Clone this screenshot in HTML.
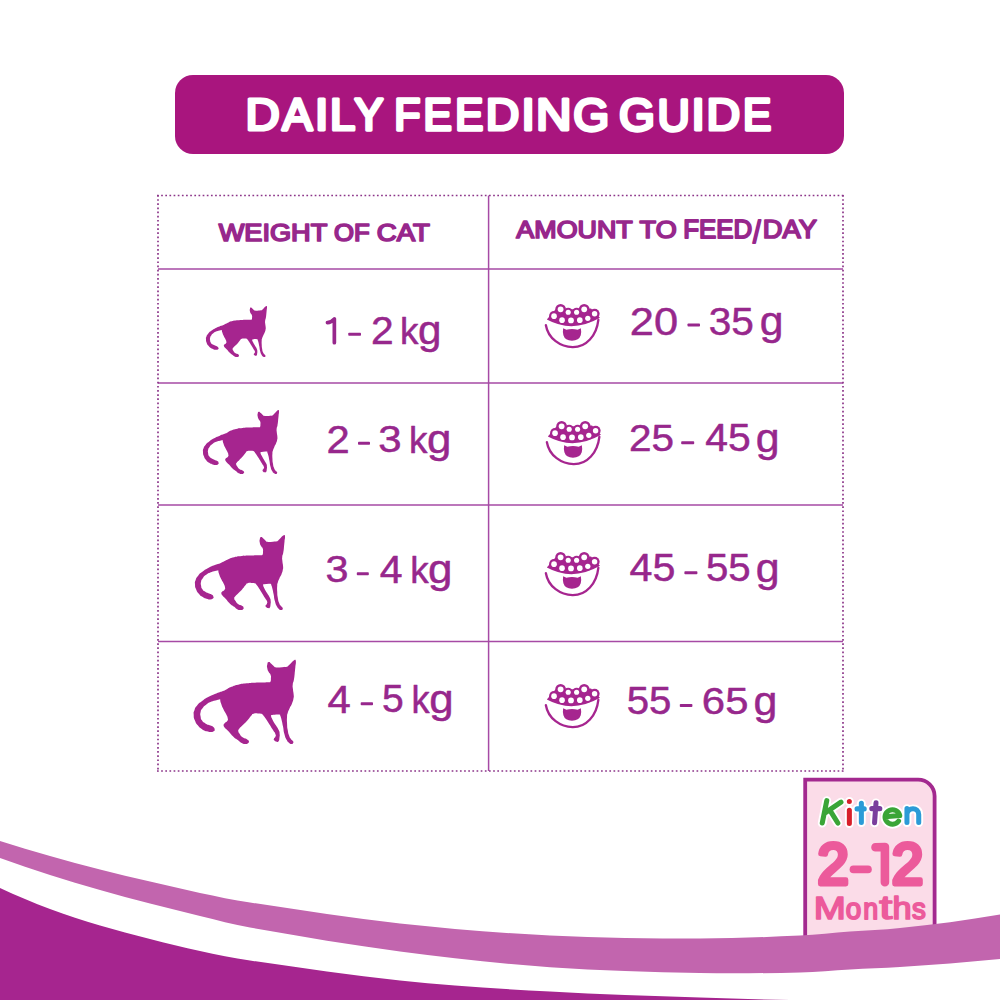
<!DOCTYPE html>
<html><head><meta charset="utf-8"><title>Daily Feeding Guide</title>
<style>
html,body{margin:0;padding:0;background:#fff;}
body{width:1000px;height:1000px;position:relative;overflow:hidden;font-family:"Liberation Sans",sans-serif;}
svg{position:absolute;left:0;top:0;}
.t{position:absolute;white-space:pre;transform-origin:0 0;display:block;}
</style></head><body>
<svg width="1000" height="1000" viewBox="0 0 1000 1000">
<rect x="175" y="75" width="669" height="79" rx="18" ry="18" fill="#a9157e"/>
<line x1="158" y1="269" x2="843" y2="269" stroke="#a64aa5" stroke-width="1.6"/>
<line x1="158" y1="383" x2="843" y2="383" stroke="#a64aa5" stroke-width="1.6"/>
<line x1="158" y1="505" x2="843" y2="505" stroke="#a64aa5" stroke-width="1.6"/>
<line x1="158" y1="641.5" x2="843" y2="641.5" stroke="#a64aa5" stroke-width="1.6"/>
<line x1="488.6" y1="195.5" x2="488.6" y2="771" stroke="#a64aa5" stroke-width="1.5"/>
<g stroke="#8c3589" stroke-width="1.7" fill="none" stroke-dasharray="1.7 2.45"><line x1="157" y1="195.5" x2="844" y2="195.5"/><line x1="157" y1="771" x2="844" y2="771"/><line x1="158" y1="195" x2="158" y2="772"/><line x1="843" y1="195" x2="843" y2="772"/></g>
<defs><path id="cat" d="M268.73,662.13C270.06,661.87 269.23,662.00 271.29,663.74C273.35,665.48 273.70,666.15 274.90,667.35C276.48,667.41 275.53,667.70 279.65,667.54C283.77,667.38 284.72,667.10 287.25,666.88C288.20,665.93 288.04,666.08 290.10,664.03C292.16,661.97 291.62,662.13 293.43,660.70C295.23,659.28 294.82,660.07 295.52,659.75C295.64,660.64 295.96,659.88 295.90,662.41C295.83,664.94 295.74,663.49 295.33,667.35C294.92,671.21 295.14,669.88 294.66,674.00C294.19,678.12 294.54,676.22 293.90,679.70C293.27,683.18 293.08,681.28 292.76,684.45C292.45,687.62 292.64,685.72 292.95,689.20C293.27,692.68 293.55,691.73 293.71,694.90C293.87,698.07 294.00,695.85 293.43,698.70C292.86,701.55 293.27,700.28 292.00,703.45C290.74,706.62 291.05,705.03 289.63,708.20C288.20,711.37 288.58,710.10 287.73,712.95C286.87,715.80 287.28,713.27 287.06,716.75C286.84,720.24 286.84,718.97 287.06,723.40C287.28,727.84 287.03,725.94 287.73,730.05C288.42,734.17 288.04,732.74 289.15,735.75C290.26,738.76 289.78,737.34 291.05,739.08C292.32,740.82 292.26,739.71 292.95,740.98C293.65,742.24 293.62,741.93 293.14,742.88C292.67,743.83 292.86,743.83 291.53,743.83C290.20,743.83 290.74,744.14 289.15,742.88C287.57,741.61 288.36,743.04 286.78,740.03C285.19,737.02 285.67,738.44 284.40,733.85C283.13,729.26 283.93,731.00 282.98,726.25C282.03,721.50 282.50,723.24 281.55,719.60C280.60,715.96 280.60,716.75 280.13,715.33C279.65,715.01 281.39,714.54 278.70,714.38C276.01,714.22 274.27,714.69 272.05,714.85C271.73,715.17 270.94,714.22 271.10,715.80C271.26,717.39 270.94,716.44 272.53,719.60C274.11,722.77 273.79,721.82 275.85,725.30C277.91,728.79 277.43,727.20 278.70,730.05C279.97,732.90 279.40,731.32 279.65,733.85C279.90,736.39 279.78,735.28 279.46,737.65C279.14,740.03 279.59,739.65 278.70,740.98C277.81,742.31 278.23,741.80 276.80,741.64C275.38,741.48 275.38,741.52 274.43,740.50C273.48,739.49 273.63,739.87 273.95,738.60C274.27,737.34 274.90,738.29 275.38,736.70C275.85,735.12 276.17,736.07 275.38,733.85C274.58,731.64 275.38,733.85 273.00,730.05C270.63,726.25 271.10,726.89 268.25,722.45C265.40,718.02 266.51,719.60 264.45,716.75C262.39,713.90 262.87,714.85 262.08,713.90C260.97,713.74 261.60,713.49 258.75,713.43C255.90,713.36 256.06,712.92 253.53,713.71C250.99,714.50 253.21,713.52 251.15,715.80C249.09,718.08 250.20,717.39 247.35,720.55C244.50,723.72 245.29,722.61 242.60,725.30C239.91,727.99 240.70,726.73 239.28,728.63C237.85,730.53 238.17,729.26 238.33,731.00C238.48,732.74 238.33,731.79 239.75,733.85C241.18,735.91 240.23,735.44 242.60,737.18C244.98,738.92 244.82,737.81 246.88,739.08C248.93,740.34 248.30,739.71 248.78,740.98C249.25,742.24 249.41,741.93 248.30,742.88C247.19,743.83 247.67,743.83 245.45,743.83C243.23,743.83 244.18,744.14 241.65,742.88C239.12,741.61 240.58,742.09 237.85,740.03C235.12,737.97 236.50,739.55 233.45,736.70C230.40,733.85 231.55,734.49 228.70,731.48C225.85,728.47 226.64,729.89 224.90,727.68C223.16,725.46 223.95,725.78 223.48,724.83C223.95,724.19 223.63,724.19 224.90,722.93C226.17,721.66 226.33,722.61 227.28,721.03C228.23,719.44 228.07,720.39 227.75,718.18C227.43,715.96 227.75,717.39 226.33,714.38C224.90,711.37 225.22,712.79 223.48,709.15C221.73,705.51 222.21,706.78 221.10,703.45C219.99,700.13 220.47,700.60 220.15,699.18C218.88,699.49 219.20,699.33 216.35,700.13C213.50,700.92 214.93,700.13 211.60,701.55C208.28,702.98 209.38,702.18 206.38,704.40C203.37,706.62 204.48,705.67 202.58,708.20C200.68,710.74 201.31,709.15 200.68,712.00C200.04,714.85 200.20,713.90 200.68,716.75C201.15,719.60 200.52,718.34 202.10,720.55C203.68,722.77 202.89,721.82 205.43,723.40C207.96,724.99 207.17,724.19 209.70,725.30C212.23,726.41 211.38,725.46 213.03,726.73C214.67,727.99 214.32,727.68 214.64,729.10C214.96,730.53 215.15,730.05 213.98,731.00C212.80,731.95 213.50,731.86 211.13,731.95C208.75,732.05 209.86,732.24 206.85,731.29C203.84,730.34 205.11,731.10 202.10,729.10C199.09,727.11 200.20,728.15 197.83,725.30C195.45,722.45 196.34,724.04 194.98,720.55C193.61,717.07 193.90,718.34 193.74,714.85C193.58,711.37 193.30,713.27 194.50,710.10C195.70,706.93 194.82,708.36 197.35,705.35C199.88,702.34 198.30,703.93 202.10,701.08C205.90,698.23 204.00,699.33 208.75,696.80C213.50,694.27 211.60,695.38 216.35,693.48C221.10,691.58 219.52,692.53 223.00,691.10C226.48,689.68 223.95,690.63 226.80,689.20C229.65,687.78 227.75,688.35 231.55,686.83C235.35,685.31 233.13,685.81 238.20,684.64C243.27,683.47 241.14,683.94 246.75,683.31C252.37,682.68 249.46,682.99 255.05,682.74C260.63,682.49 258.62,682.68 263.50,682.55C268.38,682.42 267.62,682.42 269.68,682.36C269.96,682.11 270.12,682.80 270.53,681.60C270.94,680.40 270.88,680.97 270.91,678.75C270.94,676.53 271.35,677.17 270.63,674.95C269.90,672.73 269.83,674.32 268.73,672.10C267.62,669.88 267.78,670.83 267.30,668.30C266.83,665.77 266.83,666.56 267.30,664.50C267.78,662.44 267.40,662.38 268.73,662.13Z"/></defs>
<use href="#cat" fill="#a6258f" transform="translate(206.00,306.00) scale(0.5971,0.6066) translate(-193.74,-659.75)"/>
<use href="#cat" fill="#a6258f" transform="translate(203.00,410.00) scale(0.7440,0.7612) translate(-193.74,-659.75)"/>
<use href="#cat" fill="#a6258f" transform="translate(195.00,535.00) scale(0.8810,0.8920) translate(-193.74,-659.75)"/>
<use href="#cat" fill="#a6258f" transform="translate(193.70,659.70) scale(1.0004,1.0015) translate(-193.74,-659.75)"/>
<defs><g id="bowl" fill="#a6258f"><path d="M148,370 Q470,545 812,348 L700,230 L250,250 Z" /><circle cx="320" cy="242" r="67"/><circle cx="415" cy="278" r="57"/><circle cx="520" cy="278" r="57"/><circle cx="615" cy="242" r="67"/><circle cx="745" cy="297" r="63"/><circle cx="238" cy="327" r="63"/><circle cx="338" cy="377" r="52"/><circle cx="450" cy="380" r="52"/><circle cx="560" cy="377" r="52"/><circle cx="660" cy="354" r="52"/><circle cx="320" cy="242" r="36" fill="#fff"/><circle cx="415" cy="278" r="32" fill="#fff"/><circle cx="520" cy="278" r="32" fill="#fff"/><circle cx="615" cy="242" r="36" fill="#fff"/><circle cx="745" cy="297" r="34" fill="#fff"/><circle cx="238" cy="327" r="35" fill="#fff"/><circle cx="338" cy="377" r="35" fill="#fff"/><circle cx="450" cy="380" r="36" fill="#fff"/><circle cx="560" cy="377" r="35" fill="#fff"/><circle cx="660" cy="354" r="33" fill="#fff"/><path d="M136,440 C165,610 320,712 470,714 C640,716 770,570 792,372" fill="none" stroke="#a6258f" stroke-width="29" stroke-linecap="round"/><path d="M352,478 L392,496 Q462,482 533,496 L573,478 Q582,520 572,565 Q550,632 462,634 Q375,632 355,565 Q344,520 352,478 Z"/></g></defs>
<use href="#bowl" transform="translate(535,290) scale(0.08)"/>
<use href="#bowl" transform="translate(536,407) scale(0.08)"/>
<use href="#bowl" transform="translate(535,538) scale(0.08)"/>
<use href="#bowl" transform="translate(535,670) scale(0.08)"/>
<rect x="348.25" y="332.80" width="12.75" height="3" rx="0.8" fill="#97278c"/>
<rect x="358.00" y="441.75" width="12.00" height="3" rx="0.8" fill="#97278c"/>
<rect x="356.80" y="572.20" width="12.00" height="3" rx="0.8" fill="#97278c"/>
<rect x="360.70" y="702.20" width="12.30" height="3" rx="0.8" fill="#97278c"/>
<rect x="687.50" y="323.50" width="12.50" height="3" rx="0.8" fill="#97278c"/>
<rect x="681.20" y="441.30" width="13.00" height="3" rx="0.8" fill="#97278c"/>
<rect x="684.40" y="571.30" width="13.00" height="3" rx="0.8" fill="#97278c"/>
<rect x="679.80" y="704.00" width="12.60" height="3" rx="0.8" fill="#97278c"/>
<path d="M327.45,322.60 Q331.15,322.40 334.35,318.90 L334.35,342.75" fill="none" stroke="#97278c" stroke-width="3.7" stroke-linecap="round" stroke-linejoin="round"/>
<path d="M805.2,960 L805.2,779.6 L918,779.6 A16.5,16.5 0 0 1 934.6,796 L934.6,960 Z" fill="#fbdce8" stroke="#a3298f" stroke-width="3.8"/>
<g font-family="Liberation Sans, sans-serif"><text transform="translate(245.56,130.42) scale(1.0793,1)" font-size="43.91" font-weight="normal" font-style="normal" fill="#fff" stroke="#fff" stroke-width="3.3" stroke-linejoin="round" vector-effect="non-scaling-stroke">D</text><text transform="translate(282.22,130.42) scale(1.0208,1)" font-size="44.23" font-weight="normal" font-style="normal" fill="#fff" stroke="#fff" stroke-width="3.3" stroke-linejoin="round" vector-effect="non-scaling-stroke">A</text><text transform="translate(314.80,130.42) scale(1.1266,1)" font-size="43.91" font-weight="normal" font-style="normal" fill="#fff" stroke="#fff" stroke-width="3.3" stroke-linejoin="round" vector-effect="non-scaling-stroke">I</text><text transform="translate(330.02,130.42) scale(1.0337,1)" font-size="43.91" font-weight="normal" font-style="normal" fill="#fff" stroke="#fff" stroke-width="3.3" stroke-linejoin="round" vector-effect="non-scaling-stroke">L</text><text transform="translate(354.47,130.42) scale(0.9844,1)" font-size="43.91" font-weight="normal" font-style="normal" fill="#fff" stroke="#fff" stroke-width="3.3" stroke-linejoin="round" vector-effect="non-scaling-stroke">Y</text><text transform="translate(394.32,130.42) scale(0.9760,1)" font-size="43.91" font-weight="normal" font-style="normal" fill="#fff" stroke="#fff" stroke-width="3.3" stroke-linejoin="round" vector-effect="non-scaling-stroke">F</text><text transform="translate(423.46,130.42) scale(0.9652,1)" font-size="43.91" font-weight="normal" font-style="normal" fill="#fff" stroke="#fff" stroke-width="3.3" stroke-linejoin="round" vector-effect="non-scaling-stroke">E</text><text transform="translate(455.19,130.42) scale(0.9569,1)" font-size="43.91" font-weight="normal" font-style="normal" fill="#fff" stroke="#fff" stroke-width="3.3" stroke-linejoin="round" vector-effect="non-scaling-stroke">E</text><text transform="translate(485.84,130.42) scale(1.0563,1)" font-size="43.91" font-weight="normal" font-style="normal" fill="#fff" stroke="#fff" stroke-width="3.3" stroke-linejoin="round" vector-effect="non-scaling-stroke">D</text><text transform="translate(521.30,130.42) scale(1.1266,1)" font-size="43.91" font-weight="normal" font-style="normal" fill="#fff" stroke="#fff" stroke-width="3.3" stroke-linejoin="round" vector-effect="non-scaling-stroke">I</text><text transform="translate(536.01,130.42) scale(1.1223,1)" font-size="43.91" font-weight="normal" font-style="normal" fill="#fff" stroke="#fff" stroke-width="3.3" stroke-linejoin="round" vector-effect="non-scaling-stroke">N</text><text transform="translate(573.34,130.97) scale(1.0169,1)" font-size="45.49" font-weight="normal" font-style="normal" fill="#fff" stroke="#fff" stroke-width="3.3" stroke-linejoin="round" vector-effect="non-scaling-stroke">G</text><text transform="translate(618.94,130.97) scale(1.0169,1)" font-size="45.49" font-weight="normal" font-style="normal" fill="#fff" stroke="#fff" stroke-width="3.3" stroke-linejoin="round" vector-effect="non-scaling-stroke">G</text><text transform="translate(657.49,130.98) scale(1.0005,1)" font-size="44.71" font-weight="normal" font-style="normal" fill="#fff" stroke="#fff" stroke-width="3.3" stroke-linejoin="round" vector-effect="non-scaling-stroke">U</text><text transform="translate(691.30,130.42) scale(1.1266,1)" font-size="43.91" font-weight="normal" font-style="normal" fill="#fff" stroke="#fff" stroke-width="3.3" stroke-linejoin="round" vector-effect="non-scaling-stroke">I</text><text transform="translate(706.43,130.42) scale(1.0602,1)" font-size="43.91" font-weight="normal" font-style="normal" fill="#fff" stroke="#fff" stroke-width="3.3" stroke-linejoin="round" vector-effect="non-scaling-stroke">D</text><text transform="translate(743.06,130.42) scale(0.9652,1)" font-size="43.91" font-weight="normal" font-style="normal" fill="#fff" stroke="#fff" stroke-width="3.3" stroke-linejoin="round" vector-effect="non-scaling-stroke">E</text><text transform="translate(218.66,240.90) scale(1.1219,1)" font-size="24.23" font-weight="normal" font-style="normal" fill="#97278c" stroke="#97278c" stroke-width="1.8" stroke-linejoin="round" vector-effect="non-scaling-stroke">WEIGHT</text><text transform="translate(334.04,240.90) scale(1.0597,1)" font-size="24.23" font-weight="normal" font-style="normal" fill="#97278c" stroke="#97278c" stroke-width="1.8" stroke-linejoin="round" vector-effect="non-scaling-stroke">OF</text><text transform="translate(376.82,240.90) scale(1.1393,1)" font-size="24.23" font-weight="normal" font-style="normal" fill="#97278c" stroke="#97278c" stroke-width="1.8" stroke-linejoin="round" vector-effect="non-scaling-stroke">CAT</text><text transform="translate(516.37,237.70) scale(1.1084,1)" font-size="24.23" font-weight="normal" font-style="normal" fill="#97278c" stroke="#97278c" stroke-width="1.8" stroke-linejoin="round" vector-effect="non-scaling-stroke">AMOUNT</text><text transform="translate(639.62,237.70) scale(1.1157,1)" font-size="24.23" font-weight="normal" font-style="normal" fill="#97278c" stroke="#97278c" stroke-width="1.8" stroke-linejoin="round" vector-effect="non-scaling-stroke">TO</text><text transform="translate(683.33,237.94) scale(1.0377,1)" font-size="24.93" font-weight="normal" font-style="normal" fill="#97278c" stroke="#97278c" stroke-width="1.8" stroke-linejoin="round" vector-effect="non-scaling-stroke">FEED</text><text transform="translate(753.10,243.14) scale(0.8755,1)" font-size="31.56" font-weight="normal" font-style="normal" fill="#97278c" stroke="#97278c" stroke-width="1.8" stroke-linejoin="round" vector-effect="non-scaling-stroke">/</text><text transform="translate(762.71,237.94) scale(1.0968,1)" font-size="24.93" font-weight="normal" font-style="normal" fill="#97278c" stroke="#97278c" stroke-width="1.8" stroke-linejoin="round" vector-effect="non-scaling-stroke">DAY</text><text transform="translate(370.91,343.86) scale(1.0709,1)" font-size="38.07" font-weight="normal" font-style="normal" fill="#97278c" stroke="#97278c" stroke-width="0.5" stroke-linejoin="round" vector-effect="non-scaling-stroke">2</text><text transform="translate(400.11,343.56) scale(0.9750,1)" font-size="37.72" font-weight="normal" font-style="normal" fill="#97278c" stroke="#97278c" stroke-width="0.5" stroke-linejoin="round" vector-effect="non-scaling-stroke">k</text><text transform="translate(418.06,344.10) scale(1.0468,1)" font-size="40.34" font-weight="normal" font-style="normal" fill="#97278c" stroke="#97278c" stroke-width="0.5" stroke-linejoin="round" vector-effect="non-scaling-stroke">g</text><text transform="translate(326.46,452.81) scale(1.1030,1)" font-size="37.86" font-weight="normal" font-style="normal" fill="#97278c" stroke="#97278c" stroke-width="0.5" stroke-linejoin="round" vector-effect="non-scaling-stroke">2</text><text transform="translate(378.32,452.44) scale(1.1259,1)" font-size="37.32" font-weight="normal" font-style="normal" fill="#97278c" stroke="#97278c" stroke-width="0.5" stroke-linejoin="round" vector-effect="non-scaling-stroke">3</text><text transform="translate(409.11,452.51) scale(0.9804,1)" font-size="37.52" font-weight="normal" font-style="normal" fill="#97278c" stroke="#97278c" stroke-width="0.5" stroke-linejoin="round" vector-effect="non-scaling-stroke">k</text><text transform="translate(426.99,453.09) scale(1.0936,1)" font-size="40.13" font-weight="normal" font-style="normal" fill="#97278c" stroke="#97278c" stroke-width="0.5" stroke-linejoin="round" vector-effect="non-scaling-stroke">g</text><text transform="translate(325.39,582.44) scale(1.1088,1)" font-size="37.32" font-weight="normal" font-style="normal" fill="#97278c" stroke="#97278c" stroke-width="0.5" stroke-linejoin="round" vector-effect="non-scaling-stroke">3</text><text transform="translate(379.73,582.81) scale(1.0675,1)" font-size="38.41" font-weight="normal" font-style="normal" fill="#97278c" stroke="#97278c" stroke-width="0.5" stroke-linejoin="round" vector-effect="non-scaling-stroke">4</text><text transform="translate(410.16,582.51) scale(0.9804,1)" font-size="37.52" font-weight="normal" font-style="normal" fill="#97278c" stroke="#97278c" stroke-width="0.5" stroke-linejoin="round" vector-effect="non-scaling-stroke">k</text><text transform="translate(427.99,583.09) scale(1.0963,1)" font-size="40.13" font-weight="normal" font-style="normal" fill="#97278c" stroke="#97278c" stroke-width="0.5" stroke-linejoin="round" vector-effect="non-scaling-stroke">g</text><text transform="translate(327.50,712.82) scale(1.0788,1)" font-size="38.84" font-weight="normal" font-style="normal" fill="#97278c" stroke="#97278c" stroke-width="0.5" stroke-linejoin="round" vector-effect="non-scaling-stroke">4</text><text transform="translate(381.89,712.43) scale(1.0200,1)" font-size="38.29" font-weight="normal" font-style="normal" fill="#97278c" stroke="#97278c" stroke-width="0.5" stroke-linejoin="round" vector-effect="non-scaling-stroke">5</text><text transform="translate(411.40,712.51) scale(0.9515,1)" font-size="37.93" font-weight="normal" font-style="normal" fill="#97278c" stroke="#97278c" stroke-width="0.5" stroke-linejoin="round" vector-effect="non-scaling-stroke">k</text><text transform="translate(429.24,713.01) scale(1.0827,1)" font-size="40.54" font-weight="normal" font-style="normal" fill="#97278c" stroke="#97278c" stroke-width="0.5" stroke-linejoin="round" vector-effect="non-scaling-stroke">g</text><text transform="translate(629.78,334.73) scale(1.1374,1)" font-size="38.17" font-weight="normal" font-style="normal" fill="#97278c" stroke="#97278c" stroke-width="0.5" stroke-linejoin="round" vector-effect="non-scaling-stroke">20</text><text transform="translate(708.63,334.73) scale(1.0632,1)" font-size="38.17" font-weight="normal" font-style="normal" fill="#97278c" stroke="#97278c" stroke-width="0.5" stroke-linejoin="round" vector-effect="non-scaling-stroke">35</text><text transform="translate(759.84,335.22) scale(1.0422,1)" font-size="40.94" font-weight="normal" font-style="normal" fill="#97278c" stroke="#97278c" stroke-width="0.5" stroke-linejoin="round" vector-effect="non-scaling-stroke">g</text><text transform="translate(629.03,451.14) scale(1.0767,1)" font-size="37.61" font-weight="normal" font-style="normal" fill="#97278c" stroke="#97278c" stroke-width="0.5" stroke-linejoin="round" vector-effect="non-scaling-stroke">25</text><text transform="translate(705.23,451.13) scale(1.0713,1)" font-size="38.14" font-weight="normal" font-style="normal" fill="#97278c" stroke="#97278c" stroke-width="0.5" stroke-linejoin="round" vector-effect="non-scaling-stroke">45</text><text transform="translate(755.73,451.73) scale(1.0615,1)" font-size="40.40" font-weight="normal" font-style="normal" fill="#97278c" stroke="#97278c" stroke-width="0.5" stroke-linejoin="round" vector-effect="non-scaling-stroke">g</text><text transform="translate(629.62,581.13) scale(1.0653,1)" font-size="38.71" font-weight="normal" font-style="normal" fill="#97278c" stroke="#97278c" stroke-width="0.5" stroke-linejoin="round" vector-effect="non-scaling-stroke">45</text><text transform="translate(705.94,581.13) scale(1.0382,1)" font-size="38.71" font-weight="normal" font-style="normal" fill="#97278c" stroke="#97278c" stroke-width="0.5" stroke-linejoin="round" vector-effect="non-scaling-stroke">55</text><text transform="translate(755.73,581.62) scale(1.0476,1)" font-size="40.94" font-weight="normal" font-style="normal" fill="#97278c" stroke="#97278c" stroke-width="0.5" stroke-linejoin="round" vector-effect="non-scaling-stroke">g</text><text transform="translate(626.74,714.23) scale(1.0577,1)" font-size="38.00" font-weight="normal" font-style="normal" fill="#97278c" stroke="#97278c" stroke-width="0.5" stroke-linejoin="round" vector-effect="non-scaling-stroke">55</text><text transform="translate(701.86,714.24) scale(1.1174,1)" font-size="37.46" font-weight="normal" font-style="normal" fill="#97278c" stroke="#97278c" stroke-width="0.5" stroke-linejoin="round" vector-effect="non-scaling-stroke">65</text><text transform="translate(753.53,714.86) scale(1.0651,1)" font-size="40.27" font-weight="normal" font-style="normal" fill="#97278c" stroke="#97278c" stroke-width="0.5" stroke-linejoin="round" vector-effect="non-scaling-stroke">g</text><text transform="translate(817.39,884.30) scale(0.9797,1)" font-size="57.43" font-weight="normal" font-style="normal" fill="#ec5a9b" stroke="#ec5a9b" stroke-width="4.8" stroke-linejoin="round" vector-effect="non-scaling-stroke">2</text><text transform="translate(891.76,884.30) scale(0.9874,1)" font-size="57.43" font-weight="normal" font-style="normal" fill="#ec5a9b" stroke="#ec5a9b" stroke-width="4.8" stroke-linejoin="round" vector-effect="non-scaling-stroke">2</text><text transform="translate(813.82,919.35) scale(1.2301,1)" font-size="31.30" font-weight="normal" font-style="normal" fill="#ec5a9b" stroke="#ec5a9b" stroke-width="1.8" stroke-linejoin="round" vector-effect="non-scaling-stroke">M</text><text transform="translate(845.79,919.36) scale(0.9613,1)" font-size="28.91" font-weight="normal" font-style="normal" fill="#ec5a9b" stroke="#ec5a9b" stroke-width="1.8" stroke-linejoin="round" vector-effect="non-scaling-stroke">o</text><text transform="translate(863.16,919.35) scale(0.9285,1)" font-size="28.89" font-weight="normal" font-style="normal" fill="#ec5a9b" stroke="#ec5a9b" stroke-width="1.8" stroke-linejoin="round" vector-effect="non-scaling-stroke">n</text><text transform="translate(879.19,919.23) scale(1.4539,1)" font-size="32.37" font-weight="normal" font-style="normal" fill="#ec5a9b" stroke="#ec5a9b" stroke-width="1.8" stroke-linejoin="round" vector-effect="non-scaling-stroke">t</text><text transform="translate(892.50,919.35) scale(1.0902,1)" font-size="31.45" font-weight="normal" font-style="normal" fill="#ec5a9b" stroke="#ec5a9b" stroke-width="1.8" stroke-linejoin="round" vector-effect="non-scaling-stroke">h</text><text transform="translate(912.07,919.36) scale(0.9456,1)" font-size="29.17" font-weight="normal" font-style="normal" fill="#ec5a9b" stroke="#ec5a9b" stroke-width="1.8" stroke-linejoin="round" vector-effect="non-scaling-stroke">s</text><line x1="853.4" y1="869.4" x2="868" y2="869.4" stroke="#ec5a9b" stroke-width="7.6" stroke-linecap="round"/><path d="M875.5,847.3 L884.9,847 L884.9,882.3" fill="none" stroke="#ec5a9b" stroke-width="8.6" stroke-linecap="round" stroke-linejoin="round"/></g>
<g transform="translate(810,788) scale(0.12)" fill="none" stroke-linecap="round" stroke-linejoin="round"><title>Kitten</title><path d="M140,105 L102,292 M120,212 L258,118 M168,188 L232,292" stroke="#fff" stroke-width="74"/><path d="M328,185 L328,296 M328,112 L328,113" stroke="#fff" stroke-width="74"/><path d="M428,128 L428,288 M392,174 L452,174" stroke="#fff" stroke-width="74"/><path d="M550,124 L538,290 M515,172 L582,172" stroke="#fff" stroke-width="74"/><path d="M626,240 L748,230 A62,60 0 1 0 738,276" stroke="#fff" stroke-width="74"/><path d="M808,172 L808,288 M808,222 C810,160 905,155 906,222 L906,288" stroke="#fff" stroke-width="74"/><path d="M140,105 L102,292 M120,212 L258,118 M168,188 L232,292" stroke="#3aa537" stroke-width="42"/><path d="M328,185 L328,296 M328,112 L328,113" stroke="#d81f2a" stroke-width="42"/><path d="M428,128 L428,288 M392,174 L452,174" stroke="#2b9bd7" stroke-width="42"/><path d="M550,124 L538,290 M515,172 L582,172" stroke="#7a3e9d" stroke-width="42"/><path d="M626,240 L748,230 A62,60 0 1 0 738,276" stroke="#3aa537" stroke-width="42"/><path d="M808,172 L808,288 M808,222 C810,160 905,155 906,222 L906,288" stroke="#2b9bd7" stroke-width="42"/></g>
<path d="M0.0,841.0C16.7,846.2 33.3,851.2 50.0,856.0C66.7,860.8 83.3,865.3 100.0,869.6C116.7,873.9 133.3,877.7 150.0,881.6C166.7,885.5 183.3,889.5 200.0,893.0C216.7,896.5 233.3,900.0 250.0,902.5C300.0,910.1 350.0,918.0 400.0,923.5C450.0,929.0 500.0,933.0 550.0,935.5C600.0,938.0 650.0,938.5 700.0,938.5C733.3,938.5 766.7,937.1 800.0,935.6C816.7,934.8 833.3,932.9 850.0,931.6C866.7,930.3 883.3,929.9 900.0,928.0C933.3,924.2 966.7,920.4 1000.0,914.4L1000.0,959.0C966.7,962.4 933.3,964.7 900.0,967.0C883.3,968.2 866.7,968.5 850.0,969.4C833.3,970.3 816.7,972.0 800.0,972.4C766.7,973.2 733.3,973.7 700.0,973.0C650.0,972.0 600.0,970.9 550.0,967.3C500.0,963.7 450.0,958.0 400.0,951.4C350.0,944.8 300.0,936.4 250.0,927.5C233.3,924.5 216.7,920.0 200.0,916.0C183.3,912.0 166.7,907.9 150.0,903.6C133.3,899.3 116.7,894.8 100.0,890.0C83.3,885.2 66.7,880.3 50.0,875.0C33.3,869.7 16.7,864.0 0.0,858.0Z" fill="#c265ae"/>
<path d="M0.0,888.0C16.7,895.7 33.3,902.7 50.0,909.0C66.7,915.3 83.3,920.6 100.0,925.6C116.7,930.6 133.3,934.8 150.0,939.0C166.7,943.2 183.3,947.4 200.0,951.0C216.7,954.6 233.3,958.0 250.0,960.5C300.0,967.9 350.0,975.3 400.0,980.5C450.0,985.7 500.0,988.8 550.0,991.6C600.0,994.5 650.0,995.9 700.0,997.6C730.0,998.6 760.0,999.4 790.0,1000.0L790,1001 L0,1001Z" fill="#a6258f"/>
</svg>

</body></html>
